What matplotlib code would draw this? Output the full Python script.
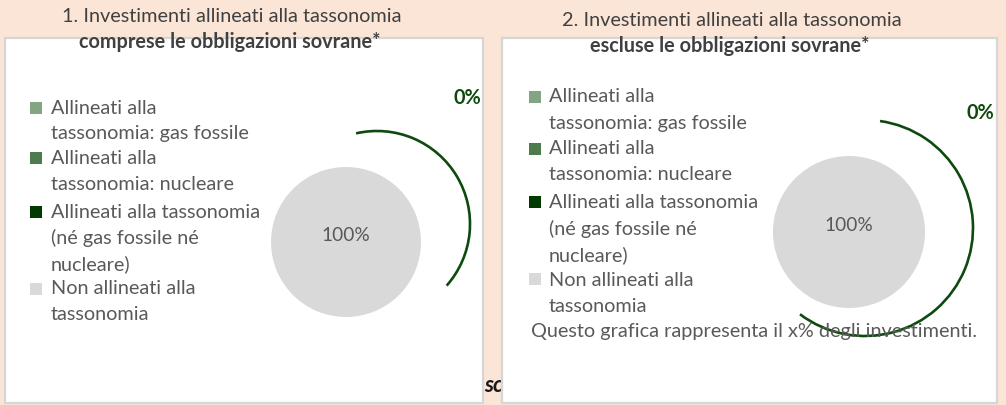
import matplotlib
matplotlib.use("Agg")
import matplotlib.pyplot as plt
from matplotlib.patches import Rectangle, Arc

plt.rcParams['font.family'] = ['Lato', 'DejaVu Sans']

# Data
categories = [
    "Allineati alla\ntassonomia: gas fossile",
    "Allineati alla\ntassonomia: nucleare",
    "Allineati alla tassonomia\n(né gas fossile né\nnucleare)",
    "Non allineati alla\ntassonomia",
]
colors = ["#84A584", "#4E7B4E", "#003A00", "#D9D9D9"]
values_incl = [0, 0, 0, 100]
values_excl = [0, 0, 0, 100]
aligned_label_incl = "0%"
aligned_label_excl = "0%"
titles = ["1. Investimenti allineati alla tassonomia",
          "2. Investimenti allineati alla tassonomia"]
subtitles = ["comprese le obbligazioni sovrane*",
             "escluse le obbligazioni sovrane*"]
note = "Questo grafica rappresenta il x% degli investimenti."

W, H = 1006, 405
BG = "#FBE5D6"
TXT = "#595959"
TITLE = "#404040"
ARC = "#0E4A0E"
FS = 14.3


def pixel_axes(z):
    a = fig.add_axes([0, 0, 1, 1])
    a.set_xlim(0, W)
    a.set_ylim(H, 0)
    a.axis("off")
    a.set_zorder(z)
    a.patch.set_alpha(0)
    return a


fig = plt.figure(figsize=(W / 100, H / 100), dpi=100, facecolor=BG)
bg = pixel_axes(0)
ax = pixel_axes(5)

# white panels
for x0, x1 in [(5, 483), (502, 997)]:
    bg.add_patch(Rectangle((x0, 38), x1 - x0, 365, facecolor="white",
                           edgecolor="#D6D6D6", lw=1.6, zorder=1))

# truncated footnote fragment between the panels
sc = bg.text(484, 385, "sc", fontsize=16, fontweight="bold", style="italic",
             color="#1A1A1A", va="center", ha="left", zorder=0.5)
clip = Rectangle((480, 360), 17, 40, transform=bg.transData, visible=False)
bg.add_patch(clip)
sc.set_clip_path(clip)

# titles
for cx, ty, title, sub in [(232, 16, titles[0], subtitles[0]),
                           (732, 20, titles[1], subtitles[1])]:
    ax.text(cx, ty, title, fontsize=FS, color=TITLE, ha="center", va="center")
    ax.text(cx - 2, ty + 26, sub, fontsize=FS, fontweight="bold", color=TITLE,
            ha="center", va="center")


def legend(x_sq, x_txt, first_lines, sq_ys):
    for (lines, c, sy, y0) in zip(categories, colors, sq_ys, first_lines):
        ax.add_patch(Rectangle((x_sq, sy - 6), 12, 12, facecolor=c,
                               edgecolor="none"))
        for k, line in enumerate(lines.split("\n")):
            ax.text(x_txt, y0 + 26 * k, line, fontsize=FS, color=TXT,
                    ha="left", va="center")


legend(30, 51, [108, 159, 212, 289], [108, 158, 212, 289])
legend(529, 549, [97, 149, 203, 280], [97, 149, 202, 279])

ax.text(531, 332, note, fontsize=FS, color=TXT, ha="left", va="center")


def pie(cx, cy, r, vals):
    pax = fig.add_axes([(cx - r) / W, (H - cy - r) / H, 2 * r / W, 2 * r / H])
    pax.pie(vals, colors=colors, startangle=-90, counterclock=False,
            autopct=lambda p: f"{p:.0f}%" if p > 0 else "",
            pctdistance=0.09,
            textprops=dict(fontsize=13.8, color=TXT),
            wedgeprops=dict(edgecolor="none"))
    pax.set_xlim(-1, 1)
    pax.set_ylim(-1, 1)
    pax.set_zorder(2)
    pax.patch.set_alpha(0)


pie(346, 242, 75, values_incl)
pie(849, 232, 76, values_excl)

# arcs pointing at the aligned share
ax.add_patch(Arc((377, 224), 186, 186, theta1=-103, theta2=41.5,
                 color=ARC, lw=1.9))
ax.add_patch(Arc((865, 228), 216, 216, theta1=-82, theta2=127,
                 color=ARC, lw=1.9))

ax.text(467, 98, aligned_label_incl, fontsize=FS, fontweight="bold",
        color="#0E4A0E", ha="center", va="center")
ax.text(980, 113, aligned_label_excl, fontsize=FS, fontweight="bold",
        color="#0E4A0E", ha="center", va="center")

fig.savefig("out.png", dpi=100, facecolor=BG)
